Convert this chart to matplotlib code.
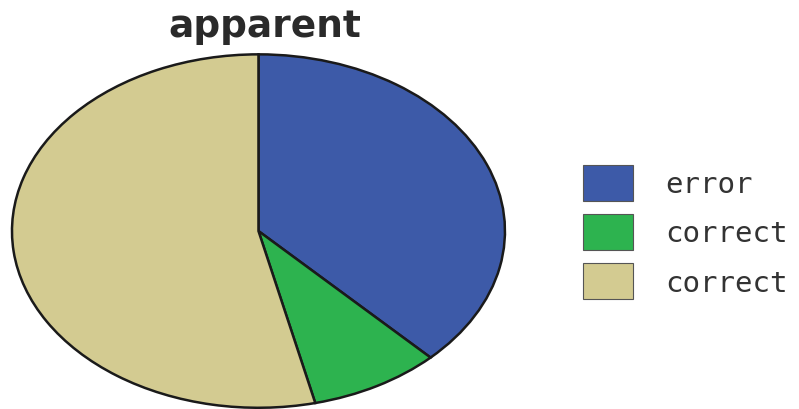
import matplotlib
matplotlib.use('Agg')
import matplotlib.pyplot as plt
from matplotlib.patches import Patch

labels = ['error', 'correct', 'correct']
values = [37.7, 8.6, 53.7]
colors = ['#3d5aa8', '#2db34f', '#d3cb91']

fig = plt.figure(figsize=(7.99, 4.10), dpi=100)
ax = fig.add_axes([0.015, 0.003, 0.617, 0.862])

ax.pie(values, colors=colors, startangle=90, counterclock=False,
       wedgeprops=dict(edgecolor='#1a1a1a', linewidth=1.8))
ax.set_aspect('auto')
ax.set_xlim(-1.0, 1.0)
ax.set_ylim(-1.0, 1.0)

fig.text(0.332, 0.935, 'apparent', ha='center', va='center',
         fontsize=27, fontweight='bold', color='#2a2a2a')

handles = [Patch(facecolor=c, edgecolor='#555555', linewidth=0.8) for c in colors]
leg = fig.legend(handles, labels, loc='center left', bbox_to_anchor=(0.7115, 0.432),
                 frameon=False, handlelength=1.71, handleheight=1.52,
                 labelspacing=0.45, handletextpad=1.1, borderpad=0,
                 prop={'family': 'DejaVu Sans Mono', 'size': 21})
for t in leg.get_texts():
    t.set_color('#333333')

fig.savefig('out.png', dpi=100)
